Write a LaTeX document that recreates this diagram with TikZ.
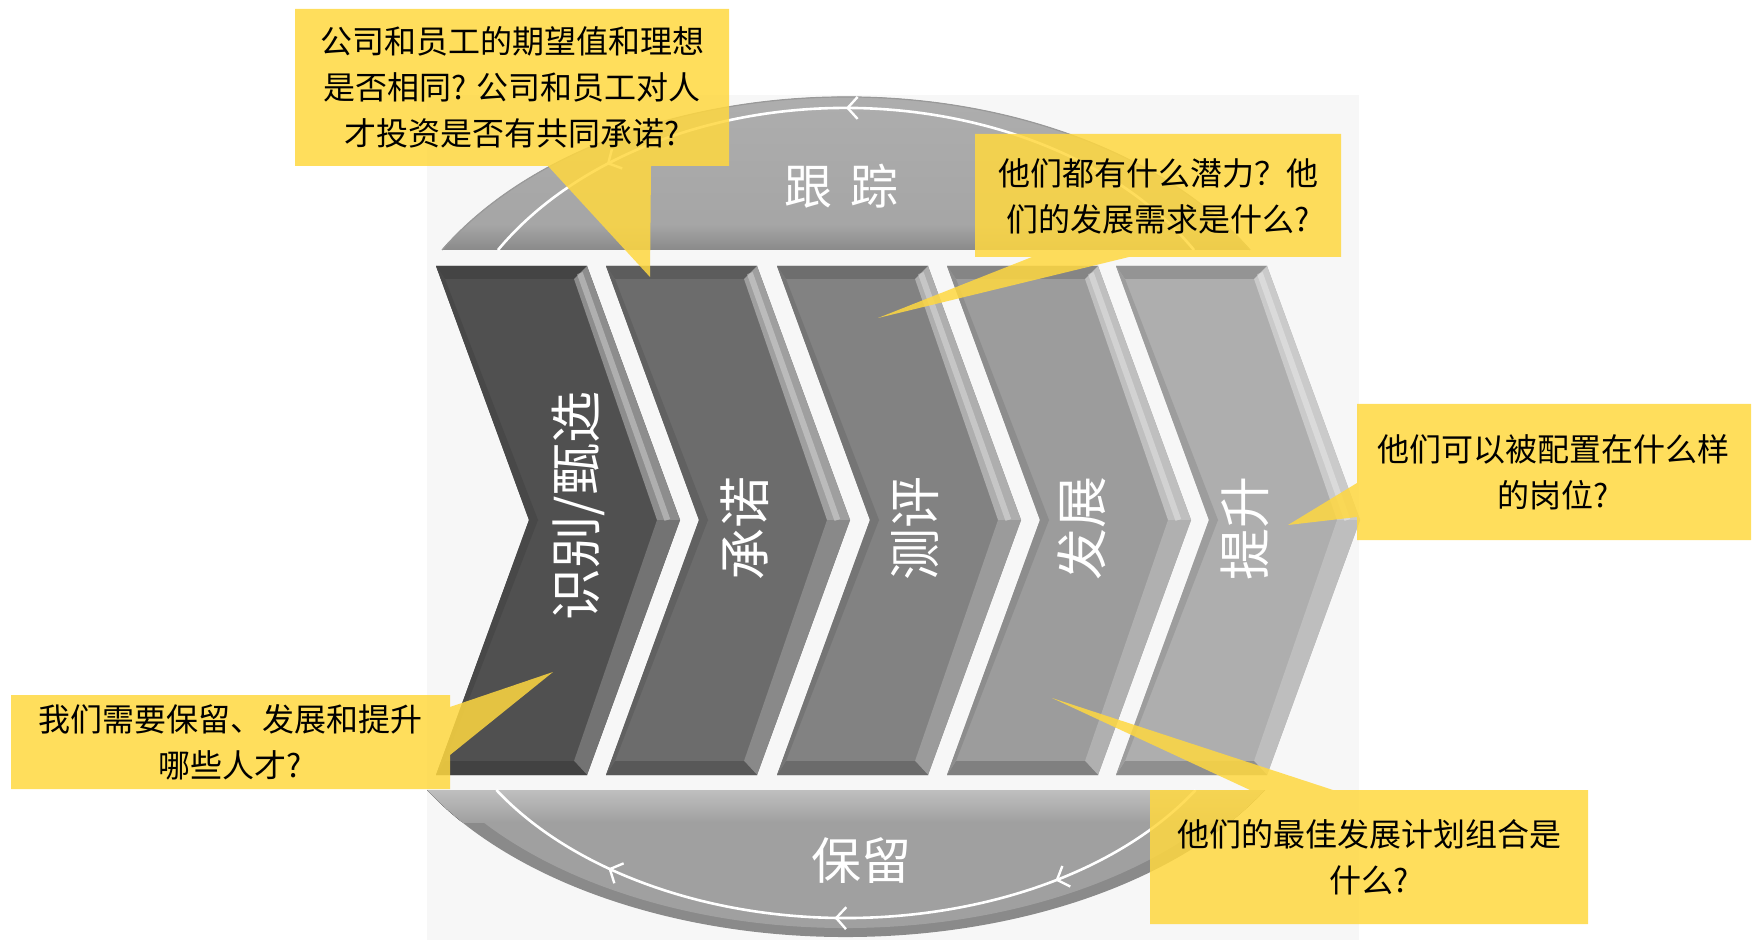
\documentclass[tikz,border=0pt]{standalone}
\usepackage{fontspec}
\newfontfamily\cjk{Noto Sans CJK SC}
\usetikzlibrary{arrows.meta,decorations.markings,calc}
\definecolor{bgc}{RGB}{247,247,247}
\definecolor{cyel}{RGB}{255,216,64}
\definecolor{chA}{RGB}{80,80,80}
\definecolor{chB}{RGB}{108,108,108}
\definecolor{chC}{RGB}{130,130,130}
\definecolor{chD}{RGB}{156,156,156}
\definecolor{chE}{RGB}{174,174,174}
\definecolor{domeA}{RGB}{176,176,176}
\definecolor{domeB}{RGB}{164,164,164}
\definecolor{rimc}{RGB}{138,138,138}
\definecolor{bowlc}{RGB}{160,160,160}
\newcommand\drawchev[2]{%
  \begin{scope}[shift={(#1,0)}]
    \coordinate (TL) at (0,266);
    \coordinate (TR) at (151,266);
    \coordinate (TP) at (244,520);
    \coordinate (BR) at (151,775);
    \coordinate (BL) at (0,775);
    \coordinate (NK) at (93,520);
    \coordinate (TLi) at (9,279);
    \coordinate (TRi) at (138,279);
    \coordinate (TPi) at (221,520);
    \coordinate (BRi) at (138,761);
    \coordinate (BLi) at (9,761);
    \coordinate (NKi) at (102,520);
    \fill[#2] (TL)--(TR)--(TP)--(BR)--(BL)--(NK)--cycle;
    \fill[#2!85!black] (TL)--(TR)--(TRi)--(TLi)--cycle;
    \fill[#2!65!white] (TR)--(TP)--(TPi)--(TRi)--cycle;
    \fill[#2!80!white] (TP)--(BR)--(BRi)--(TPi)--cycle;
    \fill[#2!82!black] (BR)--(BL)--(BLi)--(BRi)--cycle;
    \fill[#2!90!black] (BL)--(NK)--(NKi)--(BLi)--cycle;
    \fill[#2!90!black] (NK)--(TL)--(TLi)--(NKi)--cycle;
    \draw[white,opacity=.3,line width=3pt] ($(TR)!.55!(TRi)$) -- ($(TP)!.55!(TPi)$);
  \end{scope}}
\begin{document}
\begin{tikzpicture}[x=0.5pt,y=-0.5pt,
  ctext/.style={font=\cjk\fontsize{16}{23}\selectfont, align=center, text=black, inner sep=0pt},
  lbl/.style={font=\cjk\fontsize{26}{26}\selectfont, text=white, inner sep=0pt},
  callout/.style={fill=cyel, fill opacity=0.85},
  flowarrow/.style={white, line width=1.3pt, postaction={decorate}}]
\useasboundingbox (0,0) rectangle (1754,940);
% background panel
\fill[bgc] (427,95) rectangle (1359,940);
\begin{scope}
\clip (427,95) rectangle (1359,940);
% top dome
\fill[top color=domeA, bottom color=domeB] (442,250) arc[start angle=209.67, end angle=330.33, x radius=465, y radius=303] -- cycle;
\begin{scope}
\clip (442,250) arc[start angle=209.67, end angle=330.33, x radius=465, y radius=303] -- cycle;
\fill[top color=domeB, bottom color=rimc] (427,226) rectangle (1359,250);
\end{scope}
\draw[gray!80, line width=0.6pt] (442,250) arc[start angle=209.67, end angle=330.33, x radius=465, y radius=303];
\draw[flowarrow, decoration={markings,
   mark=at position 0.5 with {\arrow{Straight Barb[length=5pt,width=11pt,line width=1.2pt]}},
   mark=at position 0.82 with {\arrow{Straight Barb[length=5pt,width=11pt,line width=1.2pt]}}}]
  (1194,250) arc[start angle=329.1, end angle=210.9, x radius=405.6, y radius=292];
% bottom bowl
\fill[rimc] (1265,790) arc[start angle=29.2, end angle=150.8, x radius=480, y radius=287] -- cycle;
\fill[bowlc] (1245,790) arc[start angle=30.24, end angle=149.76, x radius=462, y radius=278] -- cycle;
\begin{scope}
\clip (1265,790) arc[start angle=29.2, end angle=150.8, x radius=480, y radius=287] -- cycle;
\fill[top color=gray!50, bottom color=bowlc] (427,790) rectangle (1359,822);
\end{scope}
\draw[flowarrow, decoration={markings,
   mark=at position 0.22 with {\arrow{Straight Barb[length=5pt,width=11pt,line width=1.2pt]}},
   mark=at position 0.515 with {\arrow{Straight Barb[length=5pt,width=11pt,line width=1.2pt]}},
   mark=at position 0.82 with {\arrow{Straight Barb[length=5pt,width=11pt,line width=1.2pt]}}}]
  (1195.6,790) arc[start angle=31.49, end angle=148.51, x radius=410, y radius=268];
\end{scope}
% chevrons
\drawchev{436}{chA}
\drawchev{606}{chB}
\drawchev{777}{chC}
\drawchev{947}{chD}
\drawchev{1116}{chE}
% labels
\node[lbl, rotate=90] (l1) at (578,506) {识别/甄选};
\node[lbl, rotate=90] (l2) at (745,528) {承诺};
\node[lbl, rotate=90] (l3) at (915,528) {测评};
\node[lbl, rotate=90] (l4) at (1082,528) {发展};
\node[lbl, rotate=90] (l5) at (1245,528) {提升};
\node[lbl, font=\cjk\fontsize{24}{24}\selectfont] (track) at (841,186) {跟\hspace{9pt}踪};
\node[lbl, font=\cjk\fontsize{25}{25}\selectfont] (keep) at (861,861) {保留};
% callouts
\fill[callout] (295,9) -- (729,9) -- (729,166) -- (651,166) -- (650,277) -- (548,166) -- (295,166) -- cycle;
\fill[callout] (975,134) -- (1341,134) -- (1341,257) -- (1129,257) -- (878,318) -- (1032,257) -- (975,257) -- cycle;
\fill[callout] (1357,404) -- (1751,404) -- (1751,540) -- (1357,540) -- (1357,517) -- (1288,525) -- (1357,483) -- cycle;
\fill[callout] (11,695) -- (450,695) -- (450,707) -- (553,672) -- (450,755) -- (450,789) -- (11,789) -- cycle;
\fill[callout] (1150,790) -- (1250,790) -- (1052,698) -- (1333,790) -- (1588,790) -- (1588,924) -- (1150,924) -- cycle;
\node[ctext] (c1) at (512,87) {公司和员工的期望值和理想\\是否相同? 公司和员工对人\\才投资是否有共同承诺?};
\node[ctext] (c2) at (1158,196) {他们都有什么潜力？他\\们的发展需求是什么?};
\node[ctext] (c3) at (1553,472) {他们可以被配置在什么样\\的岗位?};
\node[ctext] (c4) at (230,742) {我们需要保留、发展和提升\\哪些人才?};
\node[ctext] (c5) at (1369,857) {他们的最佳发展计划组合是\\什么?};
\end{tikzpicture}
\end{document}
